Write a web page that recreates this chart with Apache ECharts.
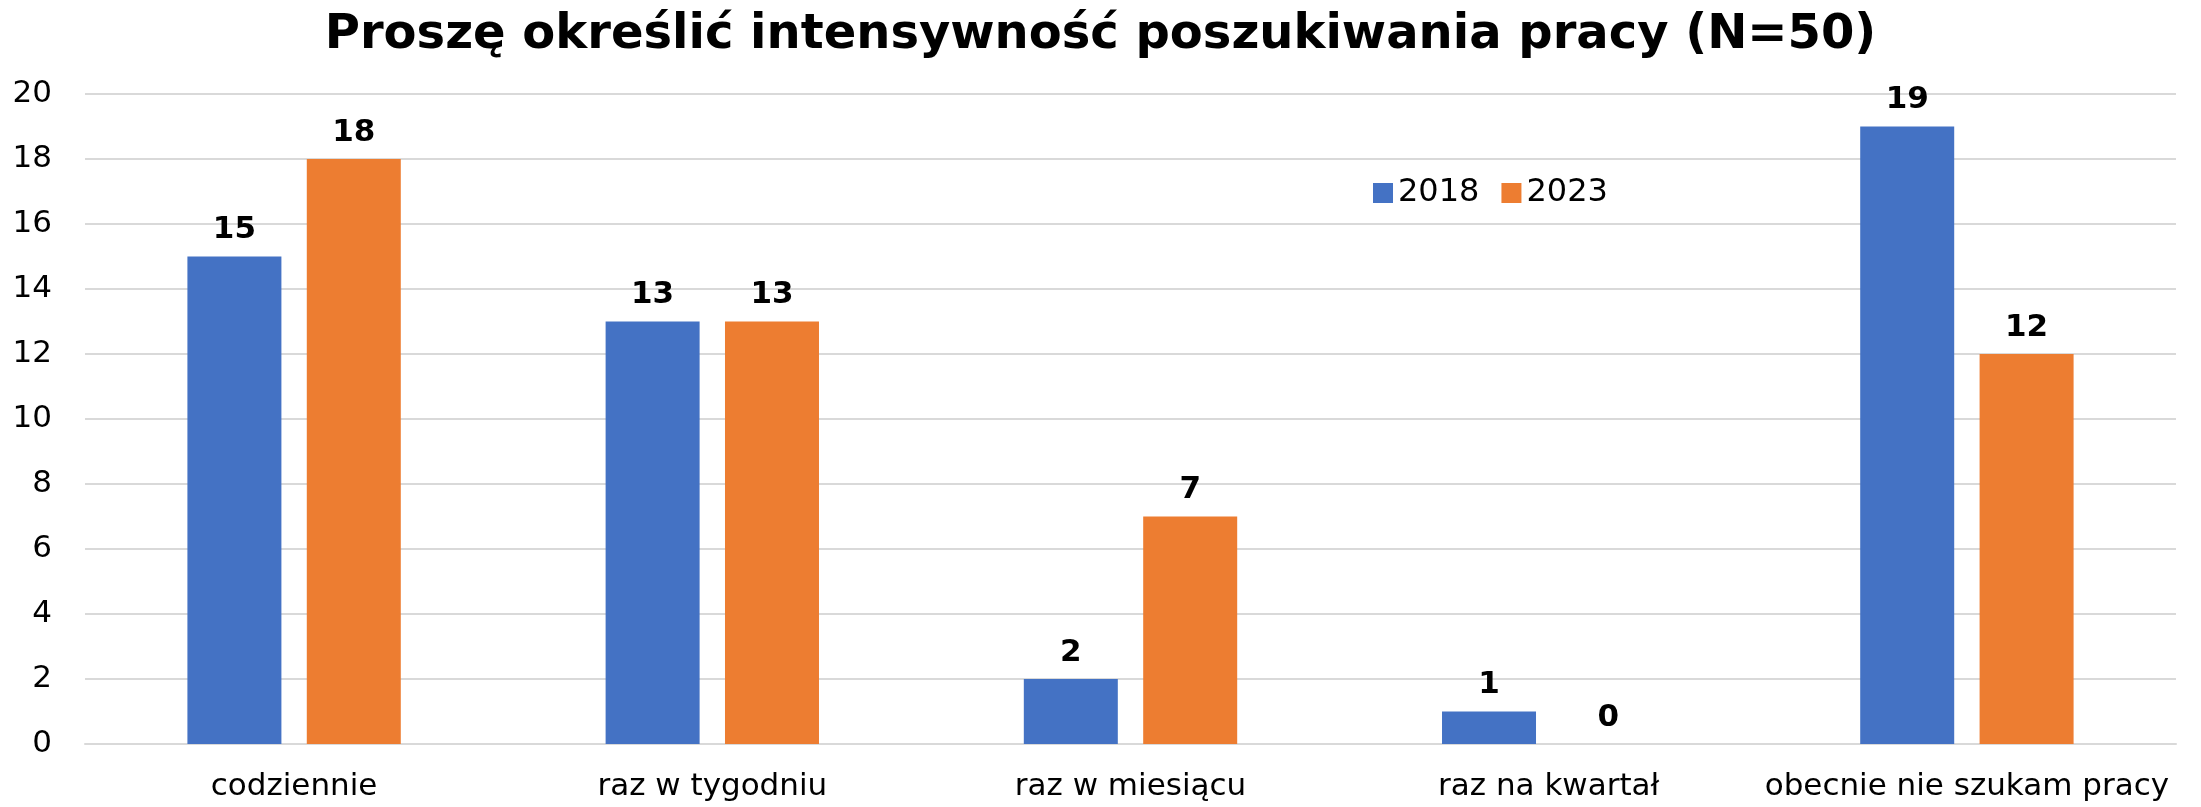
<!DOCTYPE html>
<html><head><meta charset="utf-8">
<script src="https://cdn.jsdelivr.net/npm/echarts@6/dist/echarts.min.js"></script>
<style>html,body{margin:0;padding:0;background:#fff}#c{width:2201px;height:807px}</style>
</head><body><div id="c"></div>
<script>
const categories = ["codziennie", "raz w tygodniu", "raz w miesiącu", "raz na kwartał", "obecnie nie szukam pracy"];
const values2018 = [15, 13, 2, 1, 19];
const values2023 = [18, 13, 7, 0, 12];
const seriesNames = ["2018", "2023"];
const titleText = "Proszę określić intensywność poszukiwania pracy (N=50)";

const font = "DejaVu Sans";
const chart = echarts.init(document.getElementById('c'), null, {renderer: 'canvas'});
const labelCfg = {show: true, position: 'top', distance: 11, fontFamily: font, fontWeight: 'bold', fontSize: 31, color: '#000'};
chart.setOption({
  animation: false,
  backgroundColor: '#fff',
  title: {text: titleText, left: 'center', top: 7, textStyle: {fontFamily: font, fontWeight: 'bold', fontSize: 48, color: '#000'}},
  legend: {data: seriesNames, left: 1368, top: 172, itemWidth: 20, itemHeight: 20, itemGap: 22, icon: 'rect',
    textStyle: {fontFamily: font, fontSize: 32, color: '#000', padding: [0, 0, 0, 0]}},
  grid: {left: 85, right: 25, top: 94, bottom: 63, containLabel: false},
  xAxis: {type: 'category', data: categories,
    axisLine: {lineStyle: {color: '#D9D9D9', width: 2}}, axisTick: {show: false},
    axisLabel: {interval: 0, fontFamily: font, fontSize: 31, color: '#000', margin: 27}},
  yAxis: {type: 'value', min: 0, max: 20, interval: 2,
    axisLine: {show: false}, axisTick: {show: false},
    splitLine: {lineStyle: {color: '#D9D9D9', width: 2}},
    axisLabel: {fontFamily: font, fontSize: 31, color: '#000', margin: 33}},
  series: [
    {name: seriesNames[0], type: 'bar', data: values2018, barWidth: 94, barGap: '27%', itemStyle: {color: '#4472C4'}, label: labelCfg},
    {name: seriesNames[1], type: 'bar', data: values2023, barWidth: 94, barGap: '27%', itemStyle: {color: '#ED7D31'}, label: labelCfg}
  ]
});
</script></body></html>
